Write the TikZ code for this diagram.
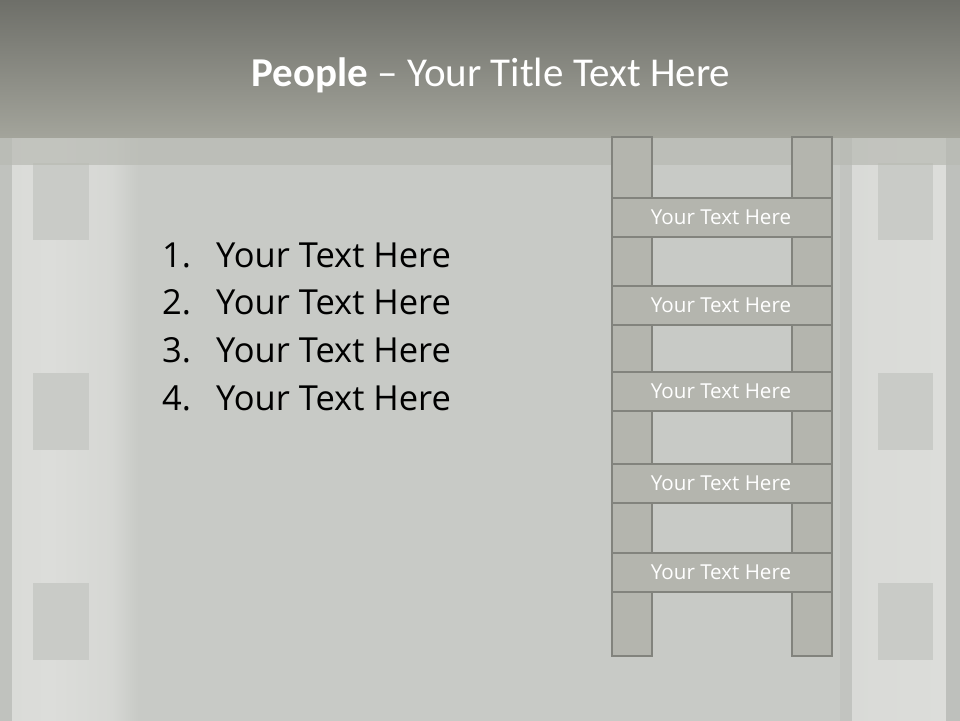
\documentclass[tikz,border=0pt]{standalone}
\usepackage{fontspec}
\setmainfont{Open Sans}
\newfontfamily\titlefont{Carlito}
\definecolor{bgmain}{HTML}{C8CAC6}
\definecolor{striplight}{HTML}{DCDDDA}
\definecolor{titletop}{HTML}{6C6D67}
\definecolor{titlebot}{HTML}{A3A49B}
\definecolor{bandc}{HTML}{B8BAB3}
\definecolor{ladderfill}{HTML}{B4B5AE}
\definecolor{ladderline}{HTML}{82837D}
\definecolor{holec}{HTML}{C9CBC7}
\tikzset{
  railbox/.style={draw=ladderline, line width=2.8pt, fill=ladderfill},
  rungtext/.style={font=\fontsize{20.6}{24}\selectfont, text=white},
  hole/.style={fill=holec},
  listitem/.style={anchor=west, font=\fontsize{34.5}{40}\selectfont, text=black, inner sep=0pt}
}
\begin{document}
\begin{tikzpicture}[x=1pt,y=-1pt]
\useasboundingbox (0,0) rectangle (960,720);
% background
\fill[bgmain] (-5,-5) rectangle (965,730);
% left film strip
\fill[bgmain!96!black] (-5,137) rectangle (12,730);
\shade[left color=striplight!90!bgmain, right color=striplight] (12,137) rectangle (50,730);
\shade[left color=striplight, right color=striplight!70!bgmain] (50,137) rectangle (112,730);
\shade[left color=striplight!70!bgmain, right color=bgmain] (112,137) rectangle (138,730);
% right film strip
\fill[bgmain!97!black] (840,137) rectangle (852,730);
\shade[left color=striplight!85!bgmain, right color=striplight] (852,137) rectangle (946,730);
\fill[bgmain!95!black] (946,137) rectangle (965,730);
% holes
\foreach \yy in {163,373,583} {
  \fill[hole] (33,\yy) rectangle (89,\yy+77);
  \fill[hole] (878,\yy) rectangle (933,\yy+77);
}
% band under title
\fill[bandc, opacity=0.7] (-5,137) rectangle (965,165);
% title band
\shade[top color=titletop, bottom color=titlebot] (-5,-5) rectangle (965,137);
\node[text=white, font=\titlefont\fontsize{41}{46}\selectfont] (title) at (491,75) {\textbf{People} – Your Title Text Here};
% list
\foreach \n/\yy in {1/255,2/302,3/350,4/398} {
  \node[listitem] (num\n) at (162,\yy) {\n.};
  \node[listitem] (item\n) at (216,\yy) {Your Text Here};
}
% ladder rails
\foreach \ya/\yb [count=\i] in {137/198,237/286,325/372,411/464,503/553,592/656} {
  \draw[railbox] (612,\ya) rectangle (652,\yb);
  \draw[railbox] (792,\ya) rectangle (832,\yb);
}
% rungs
\foreach \ya/\yb [count=\i] in {198/237,286/325,372/411,464/503,553/592} {
  \draw[railbox] (612,\ya) rectangle (832,\yb);
  \node[rungtext] (rung\i) at (721,{(\ya+\yb)/2}) {Your Text Here};
}
\end{tikzpicture}
\end{document}
